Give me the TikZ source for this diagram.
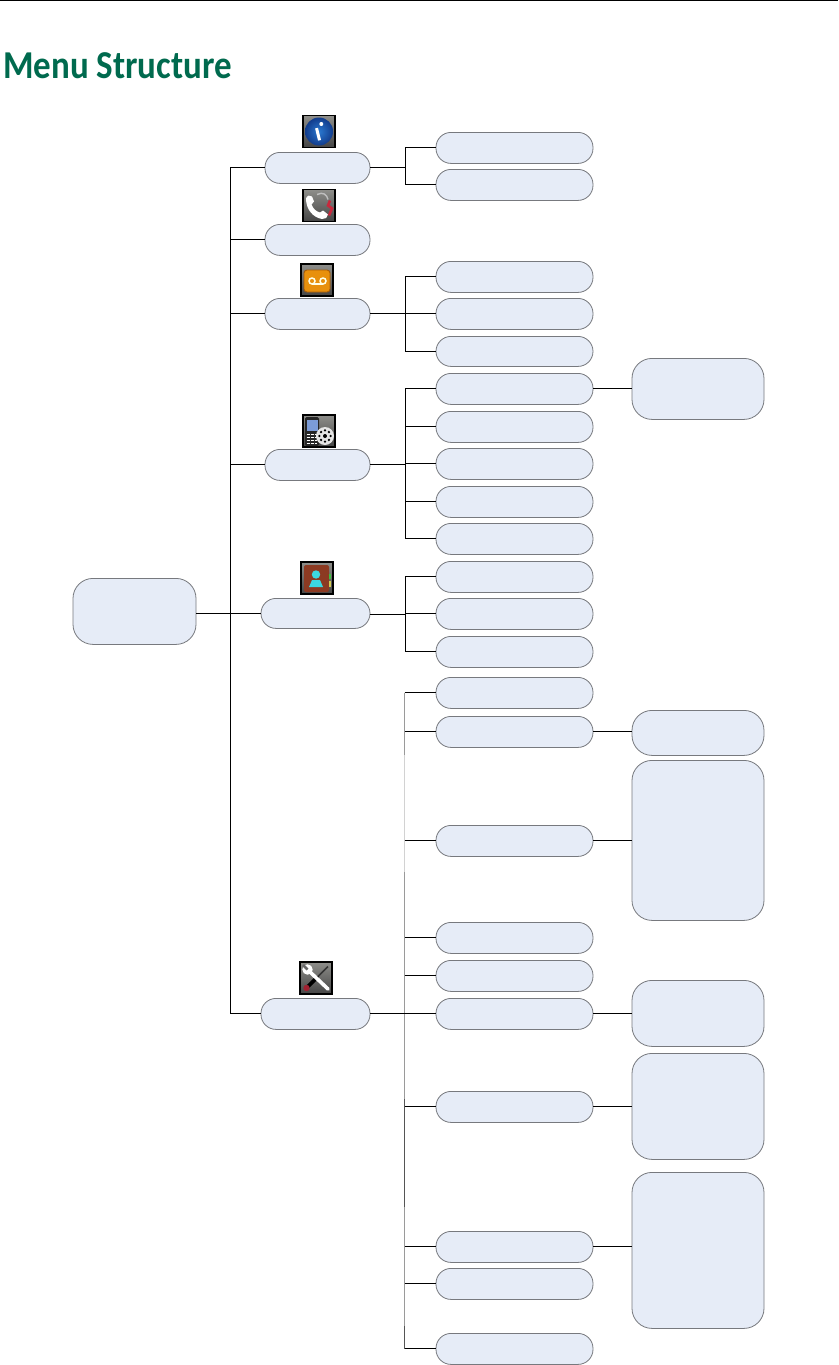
\documentclass[tikz,border=0pt]{standalone}
\usepackage{fontspec}
\setmainfont{Carlito}[FakeStretch=0.885]
\definecolor{boxfill}{HTML}{E6ECF7}
\definecolor{boxedge}{HTML}{77797E}
\definecolor{titlegreen}{HTML}{006A4E}
\definecolor{trunkgray}{HTML}{9A9A9A}
\definecolor{trunklight}{HTML}{D2D2D2}
\definecolor{trunkdark}{HTML}{555555}
\definecolor{icontop}{HTML}{8E8E8A}
\definecolor{iconbot}{HTML}{454545}
\definecolor{ballmid}{HTML}{2A78D0}
\definecolor{ballout}{HTML}{123C8C}
\definecolor{mailorange}{HTML}{E8900C}
\definecolor{mailedge}{HTML}{A85C08}
\definecolor{bookbrown}{HTML}{8C3A22}
\definecolor{personcyan}{HTML}{3CD8E0}
\definecolor{phonescreen}{HTML}{7C9CD8}
\definecolor{phonered}{HTML}{C8283C}
\tikzset{
  menubox/.style={draw=boxedge,line width=0.8pt,fill=boxfill,inner sep=0pt,outer sep=0pt,rectangle},
  link/.style={draw=black,line width=1pt},
  iconframe/.style={draw=black,line width=1.1pt,top color=icontop,bottom color=iconbot},
}
% \bx{name}{x0}{y0}{x1}{y1}{radius}
\newcommand{\bx}[6]{\node[menubox,rounded corners=#6pt,minimum width=#4pt-#2pt,minimum height=#5pt-#3pt] (#1) at ({(#2+#4)/2},{(#3+#5)/2+0.4}) {};}
\newcommand{\iconbase}{\draw[iconframe] (0,0) rectangle (32,32);}
\begin{document}
\begin{tikzpicture}[x=1pt,y=-1pt]
\useasboundingbox (0,0) rectangle (838,1365);
\fill[white] (0,0) rectangle (838,1365);
\draw[black,line width=1.2pt] (0,0.6) -- (838,0.6);
\node[anchor=base west,inner sep=0pt,text=titlegreen,font=\bfseries\fontsize{39.5}{40}\selectfont] (title) at (3,78) {Menu Structure};

% boxes
\bx{root}{73}{578}{196}{644}{20}
\bx{a1}{265}{152}{370}{183}{15}
\bx{a2}{265}{224}{370}{255}{15}
\bx{a3}{265}{298}{370}{329}{15}
\bx{a4}{265}{449}{370}{480}{15}
\bx{a5}{261}{598}{370}{628}{15}
\bx{a6}{261}{998}{370}{1029}{15}

\bx{b1}{436}{132}{593}{163}{15}
\bx{b2}{436}{169}{593}{200}{15}
\bx{b3}{436}{261}{593}{292}{15}
\bx{b4}{436}{298}{593}{329}{15}
\bx{b5}{436}{336}{593}{366}{15}
\bx{b6}{436}{373}{593}{404}{15}
\bx{b7}{436}{411}{593}{442}{15}
\bx{b8}{436}{448}{593}{479}{15}
\bx{b9}{436}{486}{593}{517}{15}
\bx{b10}{436}{523}{593}{554}{15}
\bx{b11}{436}{561}{593}{592}{15}
\bx{b12}{436}{598}{593}{629}{15}
\bx{b13}{436}{636}{593}{667}{15}
\bx{b14}{436}{677}{593}{708}{15}
\bx{b15}{436}{716}{593}{747}{15}
\bx{b16}{436}{825}{593}{856}{15}
\bx{b17}{436}{922}{593}{953}{15}
\bx{b18}{436}{960}{593}{991}{15}
\bx{b19}{436}{998}{593}{1029}{15}
\bx{b20}{436}{1091}{593}{1122}{15}
\bx{b21}{436}{1231}{593}{1262}{15}
\bx{b22}{436}{1268}{593}{1299}{15}
\bx{b23}{436}{1333}{593}{1364}{15}

\bx{c1}{632}{358}{764}{419}{20}
\bx{c2}{632}{710}{764}{755}{20}
\bx{c3}{632}{760}{764}{920}{20}
\bx{c4}{632}{980}{764}{1046}{20}
\bx{c5}{632}{1053}{764}{1159}{20}
\bx{c6}{632}{1172}{764}{1328}{20}

% junction coordinates
\coordinate (j0) at (230.5,613.4);
\coordinate (j1) at (405.5,167);
\coordinate (j3) at (405.5,314);
\coordinate (j4) at (405.5,464);
\coordinate (j5) at (405.5,614);
\coordinate (j6) at (404.5,1014);

% first level
\draw[link] (root.east |- a5.west) -- (a5.west);
\foreach \n in {a1,a2,a3,a4,a5,a6}{\draw[link] (j0) |- (\n.west);}

% second level
\draw[link] (a1.east) -- (a1.east -| j1);
\foreach \n in {b1,b2}{\draw[link] (j1 |- a1.east) |- (\n.west);}
\draw[link] (a3.east) -- (a3.east -| j3);
\foreach \n in {b3,b4,b5}{\draw[link] (j3) |- (\n.west);}
\draw[link] (a4.east) -- (a4.east -| j4);
\foreach \n in {b6,b7,b8,b9,b10}{\draw[link] (j4) |- (\n.west);}
\draw[link] (a5.east |- j5) -- (j5);
\foreach \n in {b11,b12,b13}{\draw[link] (j5) |- (\n.west);}

% long branch: the trunk changes shade along its length
\draw[trunkgray,line width=1pt] (404.5,692.5) -- (404.5,755);
\draw[trunklight,line width=1pt] (404.5,755) -- (404.5,872);
\draw[trunkgray,line width=1pt] (404.5,872) -- (404.5,1099);
\draw[trunkdark,line width=1pt] (404.5,1099) -- (404.5,1207);
\draw[trunkgray,line width=1pt] (404.5,1207) -- (404.5,1326);
\draw[trunkdark,line width=1pt] (404.5,1326) -- (404.5,1349.4);
\draw[link] (a6.east) -- (b19.west);
\foreach \n in {b14,b15,b16,b17,b18,b20,b21,b22,b23}{\draw[link] (j6 |- \n.west) -- (\n.west);}

% third level
\draw[link] (b6.east) -- (c1.west |- b6.east);
\draw[link] (b15.east) -- (c2.west |- b15.east);
\draw[link] (b16.east) -- (c3.west |- b16.east);
\draw[link] (b19.east) -- (c4.west |- b19.east);
\draw[link] (b20.east) -- (c5.west |- b20.east);
\draw[link] (b21.east) -- (c6.west |- b21.east);

% icon: information
\begin{scope}[shift={(303,115.5)}]
  \iconbase
  \shade[inner color=ballmid,outer color=ballout] (16,16) circle (14);
  \fill[white,rotate around={14:(15,19)}] (13.6,12.5) rectangle (16.6,25);
  \fill[white] (18.3,8.5) circle (2);
\end{scope}
% icon: call log
\begin{scope}[shift={(303,189.5)}]
  \iconbase
  \fill[white] (3,9) .. controls (4,6) and (7,5) .. (9,7) -- (11,12) -- (8.5,15)
     .. controls (10,19) and (13,22) .. (17,23) -- (20,21) -- (25,25)
     .. controls (25,28) and (22,30) .. (19,29.5)
     .. controls (10,28) and (3,20) .. (3,9) -- cycle;
  \draw[white!75!black,line width=1.4pt] (14,5) .. controls (20,2) and (24,5) .. (25,10);
  \draw[phonered,line width=2.6pt] (27,11) -- (25,16) -- (29,19) -- (26,26);
\end{scope}
% icon: voice mail
\begin{scope}[shift={(301,264)}]
  \iconbase
  \fill[mailorange,rounded corners=3pt,draw=mailedge,line width=0.9pt] (3,6) rectangle (29,28);
  \draw[white!90!yellow,line width=1.5pt] (11,17) circle (3) (22,17) circle (3);
  \draw[white!90!yellow,line width=1.5pt] (11,20) -- (22,20);
\end{scope}
% icon: phone settings
\begin{scope}[shift={(303,415)}]
  \iconbase
  \fill[black!85,rounded corners=1.5pt] (2,2) rectangle (16,31);
  \fill[phonescreen] (3.5,5) rectangle (14.5,16);
  \foreach \yy in {19,22,25,28}{\draw[white,line width=1pt,dash pattern=on 3pt off 1pt] (3.5,\yy) -- (14,\yy);}
  \fill[white!90!black] (22,21) circle (9);
  \foreach \aa in {0,45,...,315}{\fill[black] (22,21) ++(\aa:5.6) circle (1.3);}
  \fill[black] (22,21) circle (2);
\end{scope}
% icon: directory
\begin{scope}[shift={(301,562)}]
  \iconbase
  \fill[bookbrown,rounded corners=2pt] (3,3) rectangle (28,30);
  \fill[green!50!gray] (28,12) rectangle (30,17);
  \fill[yellow!60!gray] (28,19) rectangle (30,25);
  \fill[personcyan] (15,12.5) circle (4.2);
  \fill[personcyan] (8,25) -- (11,18) -- (19,18) -- (22,25) -- cycle;
\end{scope}
% icon: settings
\begin{scope}[shift={(300,962)}]
  \iconbase
  \draw[black!80,line width=1.6pt] (28,4.5) -- (17,15.5);
  \draw[black,line width=3.8pt,line cap=round] (17,15.5) -- (8,24.5);
  \fill[phonered!80!black] (6.5,26) circle (3.2);
  \draw[white,line width=3.6pt,line cap=round] (9,9) -- (28,27);
  \fill[white] (7.5,7.5) circle (5.2);
  \draw[black!60,line width=2.6pt] (3,3) -- (7.5,7.5);
\end{scope}
\end{tikzpicture}
\end{document}
